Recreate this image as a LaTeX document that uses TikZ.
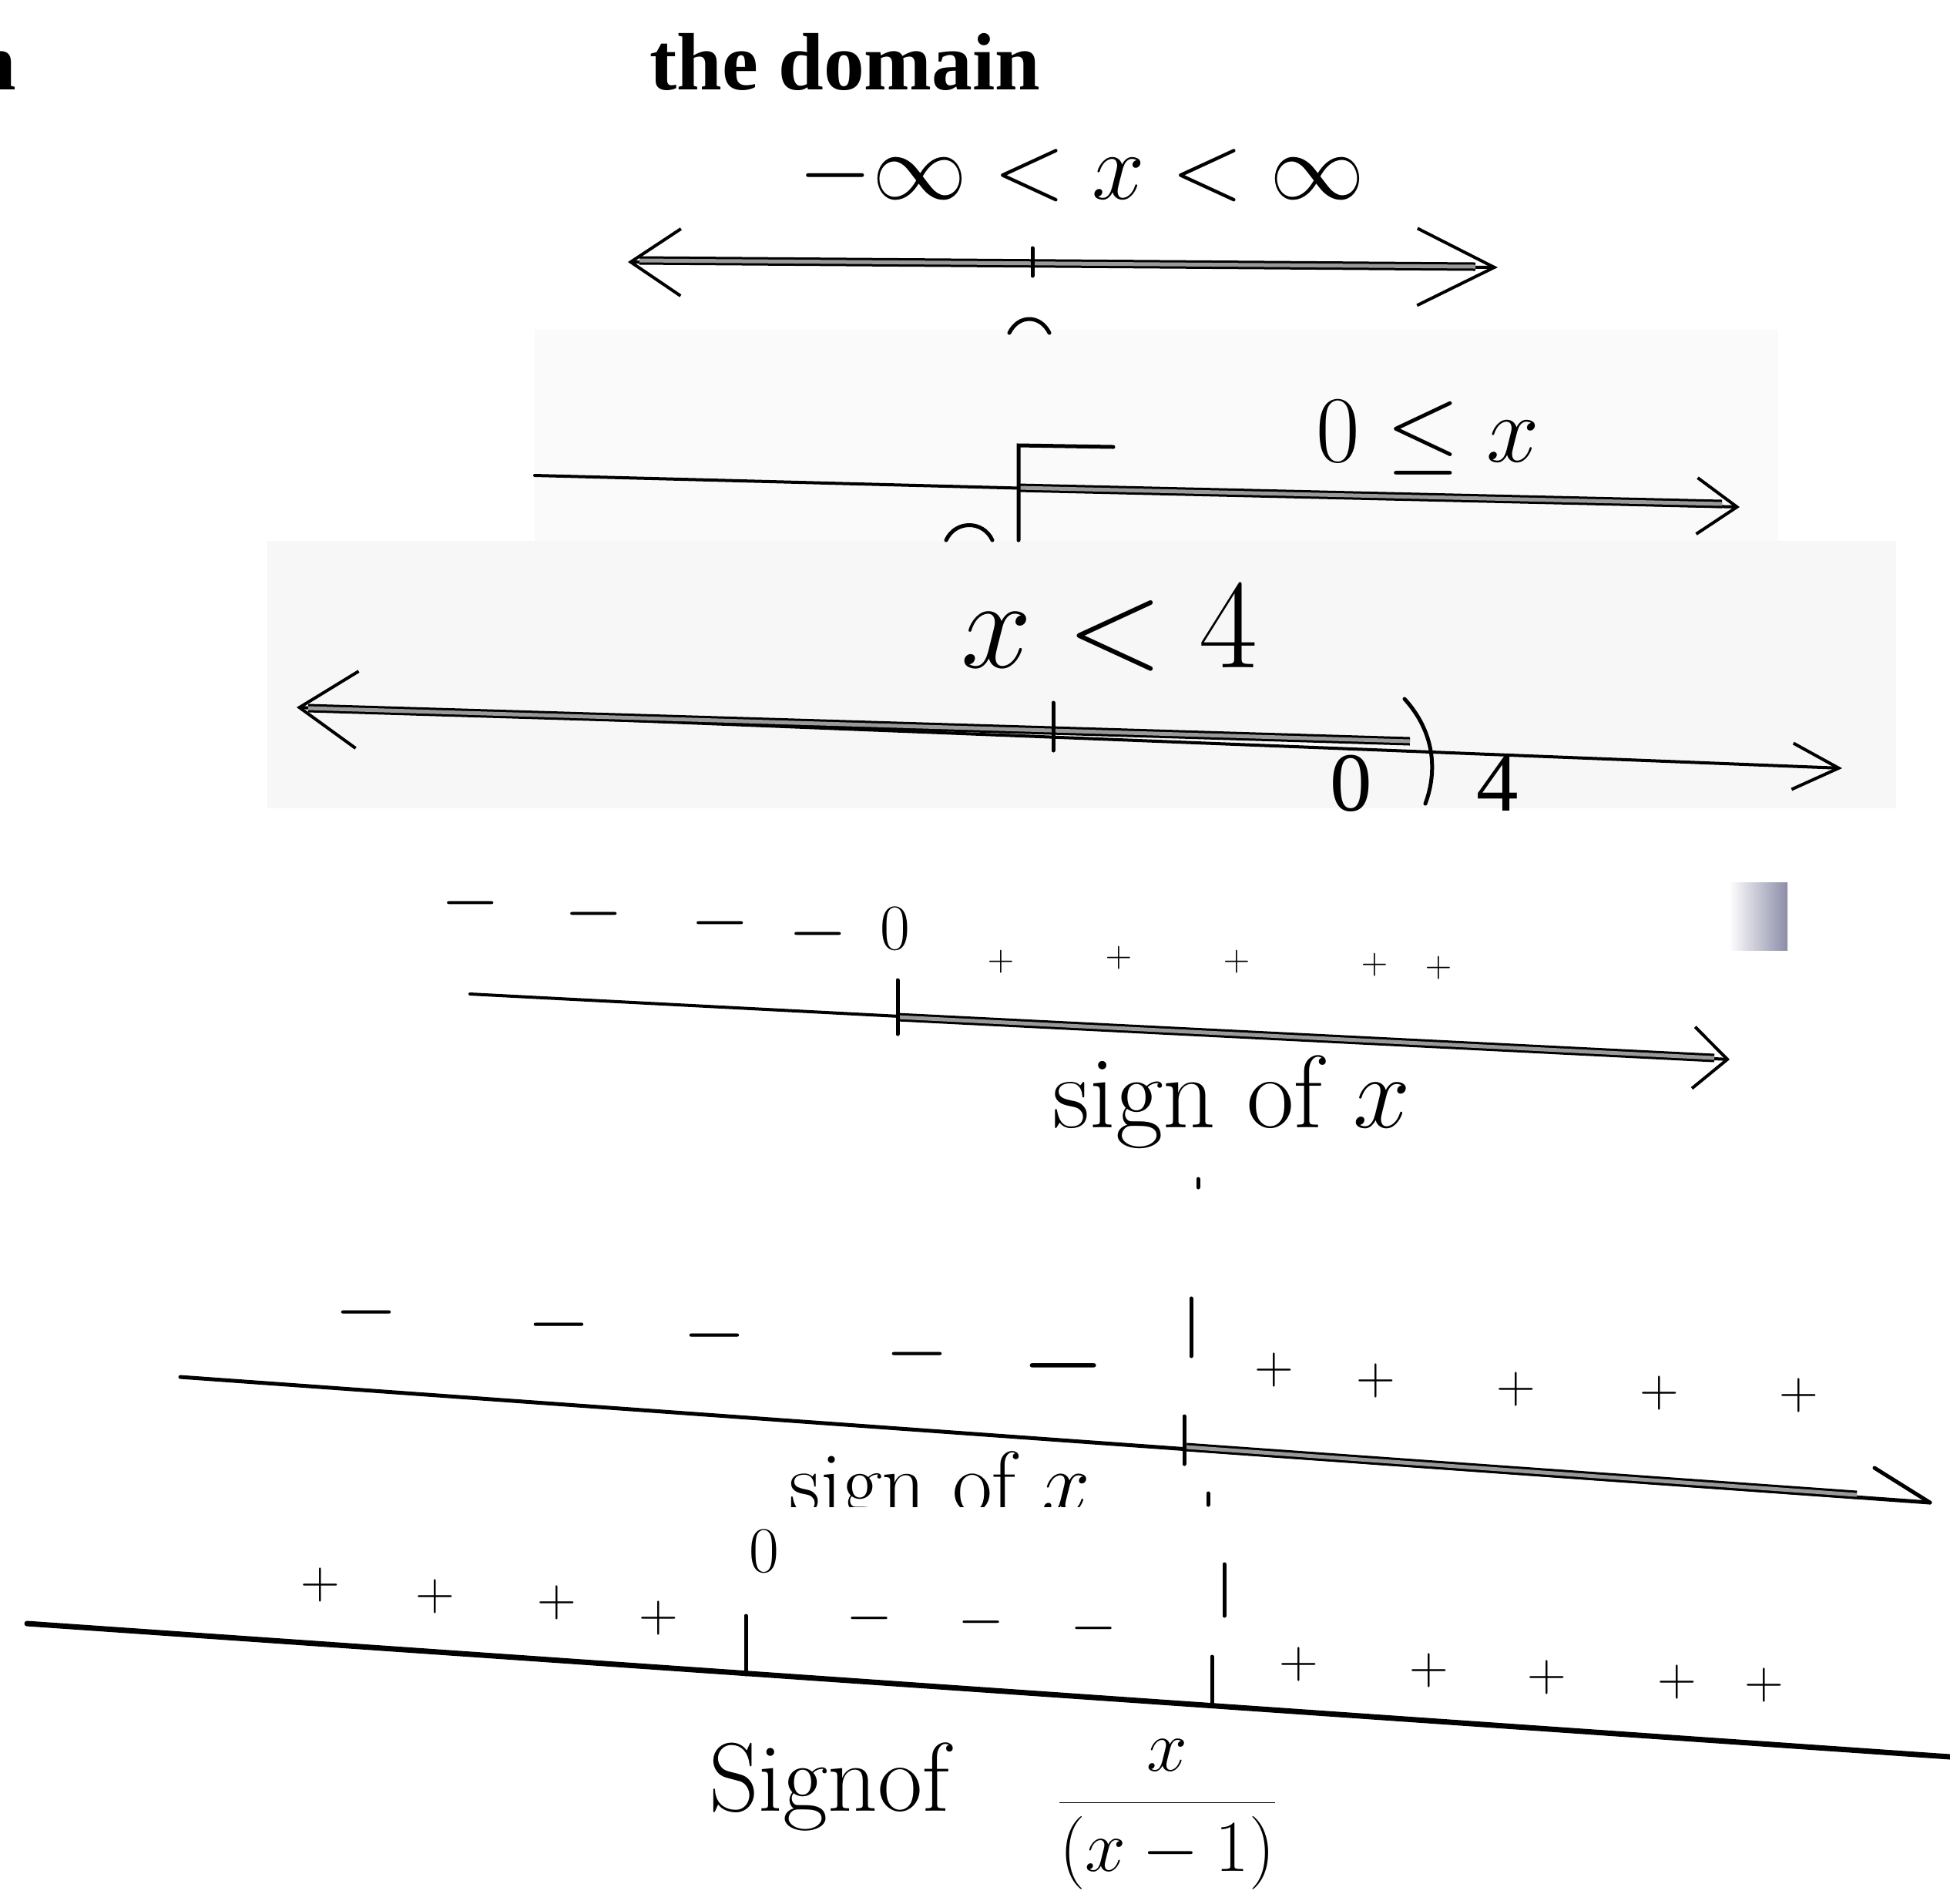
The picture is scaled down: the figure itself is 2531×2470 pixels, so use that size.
\RequirePackage{fix-cm}
\documentclass[tikz,border=0pt]{standalone}
\usepackage{fontspec}
\newfontfamily\typed{Liberation Serif}
\usetikzlibrary{arrows.meta}
\newcommand{\sz}[1]{\fontsize{#1}{#1}\selectfont}
\newcommand{\tickmark}[3]{\draw[pen] (#1,#2) --++ (0,#3)}
\newcommand{\signe}[4]{\node[#1] (#2) at (#3) {$#4$}}
\newcommand{\strip}[2]{\draw[shaded] (#1) -- (#2)}

\tikzset{
 pen/.style={line width=0.5mm, line cap=round},
 fine/.style={line width=0.4mm, line cap=round},
 shaded/.style={line width=0.3mm, double=black!40, double distance=0.5mm},
 hand/.style={inner sep=0pt, font=\sz{35}},
 typed/.style={inner sep=0pt, font=\typed\sz{31}},
 heading/.style={inner sep=0pt, font=\typed\bfseries\sz{30}},
 minussign/.style={inner sep=0pt, font=\sz{28}},
 plussign/.style={inner sep=0pt, font=\sz{20}},
 smallplus/.style={inner sep=0pt, font=\sz{13}},
}

\begin{document}
\begin{tikzpicture}[x=0.1mm, y=-0.1mm]
\useasboundingbox (0,0) rectangle (2531,2470);
%Pasted strips
	\fill[black!2] (694,428) rectangle (2308,702);
	\fill[black!3] (347,702) rectangle (2461,1049);
	\shade[left color=white, right color=blue!25!black!45] (2244,1145) rectangle (2320,1233);
%Heading
	\node[heading, anchor=base east] (cut) at (22,116) {n};
	\node[heading, anchor=base west] (head) at (843,116) {the domain};
%All real numbers
	\coordinate (a1) at (815,340);
	\coordinate (a2) at (1944,347);
	\draw[fine, {Straight Barb[length=6.5mm,width=8.7mm]}-{Straight Barb[length=10mm,width=10mm]}] (a1) -- (a2);
	\strip{830,338}{1915,346};
	\tickmark{1340}{322}{36};
	\draw[pen] (1310,432) .. controls (1322,408) and (1350,408) .. (1362,432);
	\node[hand] (all) at (1404,228) {$-\infty<x<\infty$};
%Zero or more
	\coordinate (b1) at (694,617);
	\coordinate (b2) at (2258,658);
	\draw[fine, -{Straight Barb[length=5.2mm,width=7.3mm]}] (b1) -- (b2);
	\strip{1322,633}{2235,654};
	\draw[pen] (1445,580) -- (1322,578) -- (1322,701);
	\draw[pen] (1228,701) .. controls (1240,675) and (1276,675) .. (1288,701);
	\node[hand] (geq) at (1853,568) {$0\leq x$};
%Less than four
	\coordinate (c1) at (385,918);
	\coordinate (c2) at (2391,997);
	\draw[fine, {Straight Barb[length=7.5mm,width=10mm]}-{Straight Barb[length=6mm,width=6mm]}] (c1) -- (c2);
	\strip{400,919}{1830,962};
	\tickmark{1367}{912}{62};
	\draw[pen] (1823,907) .. controls (1862,950) and (1866,1000) .. (1850,1043);
	\node[hand, font=\sz{47}] (less) at (1440,815) {$x<4$};
	\node[typed] (zero) at (1754,1017) {0};
	\node[typed] (four) at (1944,1017) {4};
%Sign of x
	\coordinate (d1) at (610,1290);
	\coordinate (d2) at (2245,1375);
	\draw[fine, -{Straight Barb[length=4.4mm,width=8mm]}] (d1) -- (d2);
	\strip{1165,1320}{2225,1373};
	\tickmark{1165}{1272}{70};
	\node[hand, font=\sz{24}] (dz) at (1162,1205) {$0$};
	\signe{minussign}{dm1}{611,1172}{-};
	\signe{minussign}{dm2}{771,1186}{-};
	\signe{minussign}{dm3}{935,1198}{-};
	\signe{minussign}{dm4}{1062,1212}{-};
	\signe{smallplus}{dp1}{1299,1248}{+};
	\signe{smallplus}{dp2}{1452,1243}{+};
	\signe{smallplus}{dp3}{1605,1248}{+};
	\signe{smallplus}{dp4}{1784,1252}{+};
	\signe{smallplus}{dp5}{1867,1256}{+};
	\node[hand, font=\sz{38}] (sx) at (1599,1430) {sign of $x$};
	\draw[pen] (1555,1530) -- (1555,1541);
%Sign of x-1
	\coordinate (e1) at (234,1787);
	\coordinate (e2) at (2505,1950);
	\draw[pen] (e1) -- (e2);
	\draw[pen] (2433,1905) -- (e2);
	\strip{1540,1878}{2410,1940};
	\tickmark{1546}{1685}{75};
	\tickmark{1537}{1838}{62};
	\signe{minussign, font=\sz{30}}{em1}{475,1703}{-};
	\signe{minussign, font=\sz{30}}{em2}{725,1719}{-};
	\signe{minussign, font=\sz{30}}{em3}{927,1733}{-};
	\signe{minussign, font=\sz{30}}{em4}{1190,1757}{-};
	\signe{minussign, font=\sz{40}}{em5}{1380,1772}{-};
	\signe{plussign}{ep1}{1654,1778}{+};
	\signe{plussign}{ep2}{1786,1792}{+};
	\signe{plussign}{ep3}{1968,1803}{+};
	\signe{plussign}{ep4}{2154,1808}{+};
	\signe{plussign}{ep5}{2335,1811}{+};
	\begin{scope}
	\clip (900,1850) rectangle (1600,1955);
	\node[hand, font=\sz{32}, anchor=base west] (sxm) at (1024,1962) {sign of $x$};
	\end{scope}
	\draw[pen] (1568,1938) -- (1568,1953);
%Sign of the quotient
	\coordinate (f1) at (35,2107);
	\coordinate (f2) at (2531,2280);
	\draw[pen, line width=0.7mm] (f1) -- (f2);
	\tickmark{968}{2097}{76};
	\tickmark{1589}{2030}{67};
	\tickmark{1573}{2150}{63};
	\node[hand, font=\sz{24}] (fz) at (992,2013) {$0$};
	\signe{plussign}{fp1}{416,2057}{+};
	\signe{plussign}{fp2}{565,2072}{+};
	\signe{plussign}{fp3}{723,2080}{+};
	\signe{plussign}{fp4}{855,2100}{+};
	\signe{minussign, font=\sz{22}}{fm1}{1129,2100}{-};
	\signe{minussign, font=\sz{22}}{fm2}{1274,2105}{-};
	\signe{minussign, font=\sz{22}}{fm3}{1420,2113}{-};
	\signe{plussign}{fp5}{1686,2160}{+};
	\signe{plussign}{fp6}{1855,2168}{+};
	\signe{plussign}{fp7}{2008,2177}{+};
	\signe{plussign}{fp8}{2177,2183}{+};
	\signe{plussign}{fp9}{2290,2187}{+};
	\node[hand, font=\sz{36}, anchor=base] (sq) at (1076,2350) {Signof};
	\node[hand, font=\sz{27}, anchor=base] (frac) at (1515,2363) {$\displaystyle\frac{x}{(x-1)}$};
\end{tikzpicture}
\end{document}
